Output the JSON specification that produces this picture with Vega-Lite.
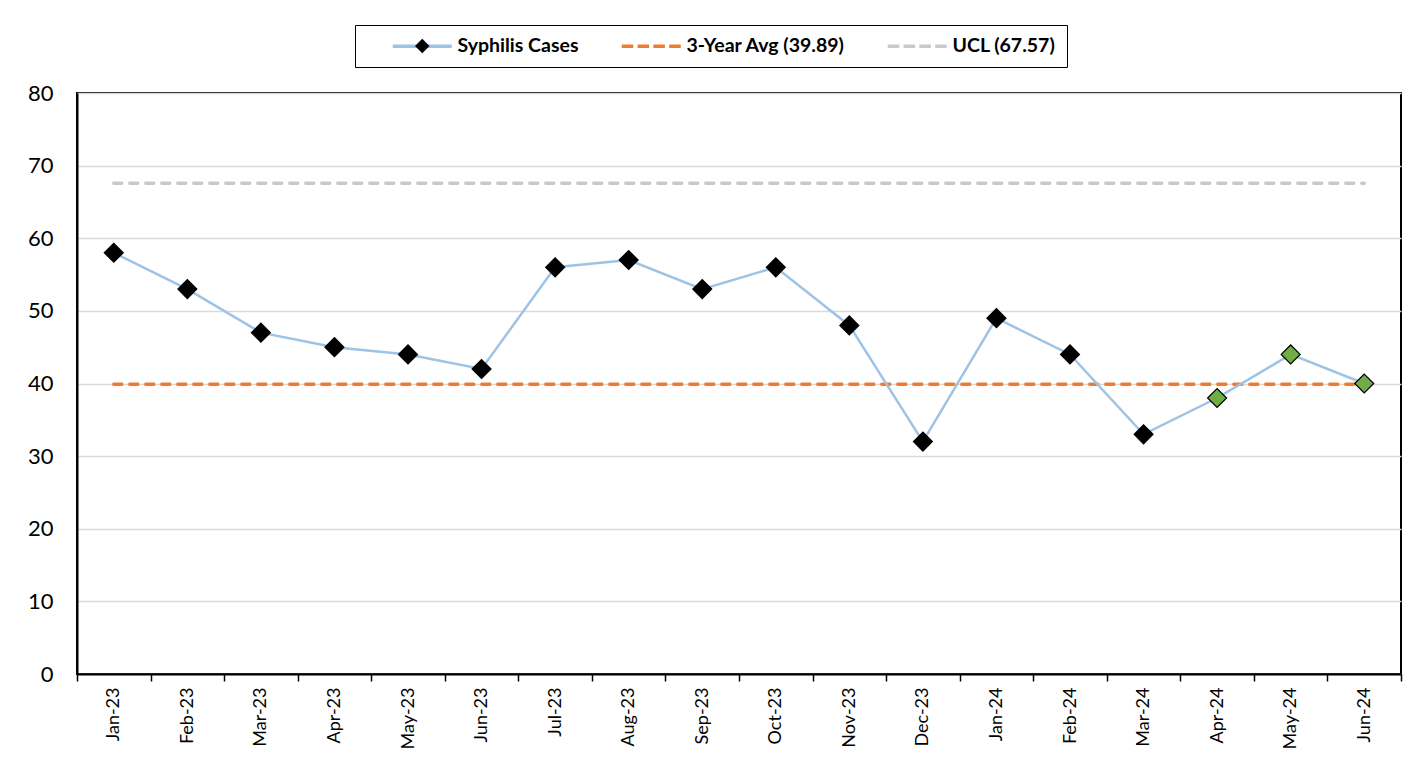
{
  "$schema": "https://vega.github.io/schema/vega-lite/v6.json",
  "width": 1324,
  "height": 581,
  "autosize": "none",
  "padding": {"left": 77, "top": 93, "right": 8, "bottom": 85},
  "background": "white",
  "config": {"view": {"stroke": "black", "strokeWidth": 2}, "font": "Lato"},
  "data": {"values": [
    {"Month": "Jan-23", "Cases": 58, "Avg": 39.89, "UCL": 67.57, "Highlight": false},
    {"Month": "Feb-23", "Cases": 53, "Avg": 39.89, "UCL": 67.57, "Highlight": false},
    {"Month": "Mar-23", "Cases": 47, "Avg": 39.89, "UCL": 67.57, "Highlight": false},
    {"Month": "Apr-23", "Cases": 45, "Avg": 39.89, "UCL": 67.57, "Highlight": false},
    {"Month": "May-23", "Cases": 44, "Avg": 39.89, "UCL": 67.57, "Highlight": false},
    {"Month": "Jun-23", "Cases": 42, "Avg": 39.89, "UCL": 67.57, "Highlight": false},
    {"Month": "Jul-23", "Cases": 56, "Avg": 39.89, "UCL": 67.57, "Highlight": false},
    {"Month": "Aug-23", "Cases": 57, "Avg": 39.89, "UCL": 67.57, "Highlight": false},
    {"Month": "Sep-23", "Cases": 53, "Avg": 39.89, "UCL": 67.57, "Highlight": false},
    {"Month": "Oct-23", "Cases": 56, "Avg": 39.89, "UCL": 67.57, "Highlight": false},
    {"Month": "Nov-23", "Cases": 48, "Avg": 39.89, "UCL": 67.57, "Highlight": false},
    {"Month": "Dec-23", "Cases": 32, "Avg": 39.89, "UCL": 67.57, "Highlight": false},
    {"Month": "Jan-24", "Cases": 49, "Avg": 39.89, "UCL": 67.57, "Highlight": false},
    {"Month": "Feb-24", "Cases": 44, "Avg": 39.89, "UCL": 67.57, "Highlight": false},
    {"Month": "Mar-24", "Cases": 33, "Avg": 39.89, "UCL": 67.57, "Highlight": false},
    {"Month": "Apr-24", "Cases": 38, "Avg": 39.89, "UCL": 67.57, "Highlight": true},
    {"Month": "May-24", "Cases": 44, "Avg": 39.89, "UCL": 67.57, "Highlight": true},
    {"Month": "Jun-24", "Cases": 40, "Avg": 39.89, "UCL": 67.57, "Highlight": true}
  ]},
  "layer": [
    {
      "mark": {"type": "line", "stroke": "#C9C9C9", "strokeWidth": 3.5, "strokeDash": [8, 8], "strokeCap": "round"},
      "encoding": {
        "x": {"field": "Month", "type": "ordinal", "sort": null,
          "scale": {"type": "band", "paddingInner": 0, "paddingOuter": 0},
          "axis": {"title": null, "labelAngle": -90, "tickBand": "extent", "tickSize": 7, "tickColor": "black", "tickWidth": 1.5,
            "domainColor": "black", "domainWidth": 2, "labelFont": "Lato", "labelFontSize": 18, "labelColor": "black", "labelPadding": 6, "grid": false}},
        "y": {"field": "UCL", "type": "quantitative",
          "scale": {"domain": [0, 80], "nice": false},
          "axis": {"title": null, "values": [0, 10, 20, 30, 40, 50, 60, 70, 80], "grid": true, "gridColor": "#D9D9D9", "gridWidth": 1.5,
            "domainColor": "black", "domainWidth": 2, "tickSize": 0, "ticks": false, "labelPadding": 24, "labelFontSize": 22, "labelColor": "black", "labelFont": "Lato"}}
      }
    },
    {
      "mark": {"type": "line", "stroke": "#ED7D31", "strokeWidth": 3.5, "strokeDash": [8, 8], "strokeCap": "round"},
      "encoding": {
        "x": {"field": "Month", "type": "ordinal", "sort": null},
        "y": {"field": "Avg", "type": "quantitative"}
      }
    },
    {
      "mark": {"type": "line", "stroke": "#9DC3E6", "strokeWidth": 2.5},
      "encoding": {
        "x": {"field": "Month", "type": "ordinal", "sort": null},
        "y": {"field": "Cases", "type": "quantitative"}
      }
    },
    {
      "mark": {"type": "point", "shape": "diamond", "size": 360, "filled": true, "stroke": "black", "strokeWidth": 1.2, "opacity": 1},
      "encoding": {
        "x": {"field": "Month", "type": "ordinal", "sort": null},
        "y": {"field": "Cases", "type": "quantitative"},
        "fill": {"condition": {"test": "datum.Highlight", "value": "#70AD47"}, "value": "black"}
      }
    },
    {
      "data": {"values": [
        {"series": "Syphilis Cases"},
        {"series": "3-Year Avg (39.89)"},
        {"series": "UCL (67.57)"}
      ]},
      "mark": {"type": "point", "filled": false, "opacity": 0},
      "encoding": {
        "shape": {"field": "series", "type": "nominal",
          "scale": {"domain": ["Syphilis Cases", "3-Year Avg (39.89)", "UCL (67.57)"],
            "range": ["M3.4,0H15.2",
                      "M3.4,0H5.7M6.57,0H8.87M9.73,0H12.03M12.9,0H15.2",
                      "M3.4,0H5.7M6.57,0H8.87M9.73,0H12.03M12.9,0H15.2"]},
          "legend": {"title": null, "orient": "none", "legendX": 278, "legendY": -68, "direction": "horizontal", "columns": 3,
            "columnPadding": 16, "padding": 11, "strokeColor": "black",
            "labelFont": "Lato", "labelFontSize": 19.5, "labelFontWeight": "bold", "labelColor": "black", "labelOffset": 72, "labelLimit": 400,
            "symbolSize": 100, "symbolStrokeWidth": 3.5, "symbolOpacity": 1, "symbolFillColor": "transparent", "zindex": 0,
            "encode": {"legend": {"update": {"strokeWidth": {"value": 1.5}}}}}},
        "stroke": {"field": "series", "type": "nominal",
          "scale": {"domain": ["Syphilis Cases", "3-Year Avg (39.89)", "UCL (67.57)"], "range": ["#9DC3E6", "#ED7D31", "#C9C9C9"]},
          "legend": {"title": null, "orient": "none", "legendX": 278, "legendY": -68, "direction": "horizontal", "columns": 3,
            "columnPadding": 16, "padding": 11, "strokeColor": "black",
            "labelFont": "Lato", "labelFontSize": 19.5, "labelFontWeight": "bold", "labelColor": "black", "labelOffset": 72, "labelLimit": 400,
            "symbolSize": 100, "symbolStrokeWidth": 3.5, "symbolOpacity": 1, "symbolFillColor": "transparent", "zindex": 0,
            "encode": {"legend": {"update": {"strokeWidth": {"value": 1.5}}}}}}
      }
    },
    {
      "data": {"values": [
        {"series": "Syphilis Cases"},
        {"series": "3-Year Avg (39.89)"},
        {"series": "UCL (67.57)"}
      ]},
      "mark": {"type": "point", "filled": true, "stroke": "black", "opacity": 0},
      "encoding": {
        "shape": {"field": "series", "type": "nominal",
          "scale": {"domain": ["Syphilis Cases", "3-Year Avg (39.89)", "UCL (67.57)"],
            "range": ["M9.3,-1.45L10.75,0L9.3,1.45L7.85,0Z",
                      "M9.3,0",
                      "M9.3,0"]},
          "legend": {"title": null, "orient": "none", "legendX": 278, "legendY": -68, "direction": "horizontal", "columns": 3,
            "columnPadding": 16, "padding": 11, "labelExpr": "''",
            "labelFont": "Lato", "labelFontSize": 19.5, "labelFontWeight": "bold", "labelColor": "transparent", "labelOffset": 72, "labelLimit": 400,
            "symbolSize": 100, "symbolStrokeWidth": 1.2, "symbolStrokeColor": "black", "symbolOpacity": 1, "zindex": 1}},
        "fill": {"field": "series", "type": "nominal",
          "scale": {"domain": ["Syphilis Cases", "3-Year Avg (39.89)", "UCL (67.57)"], "range": ["black", "transparent", "transparent"]},
          "legend": {"title": null, "orient": "none", "legendX": 278, "legendY": -68, "direction": "horizontal", "columns": 3,
            "columnPadding": 16, "padding": 11, "labelExpr": "''",
            "labelFont": "Lato", "labelFontSize": 19.5, "labelFontWeight": "bold", "labelColor": "transparent", "labelOffset": 72, "labelLimit": 400,
            "symbolSize": 100, "symbolStrokeWidth": 1.2, "symbolStrokeColor": "black", "symbolOpacity": 1, "zindex": 1}}
      }
    }
  ],
  "resolve": {
    "scale": {"shape": "independent", "fill": "independent", "stroke": "independent"},
    "legend": {"shape": "independent", "fill": "independent", "stroke": "independent"}
  }
}
